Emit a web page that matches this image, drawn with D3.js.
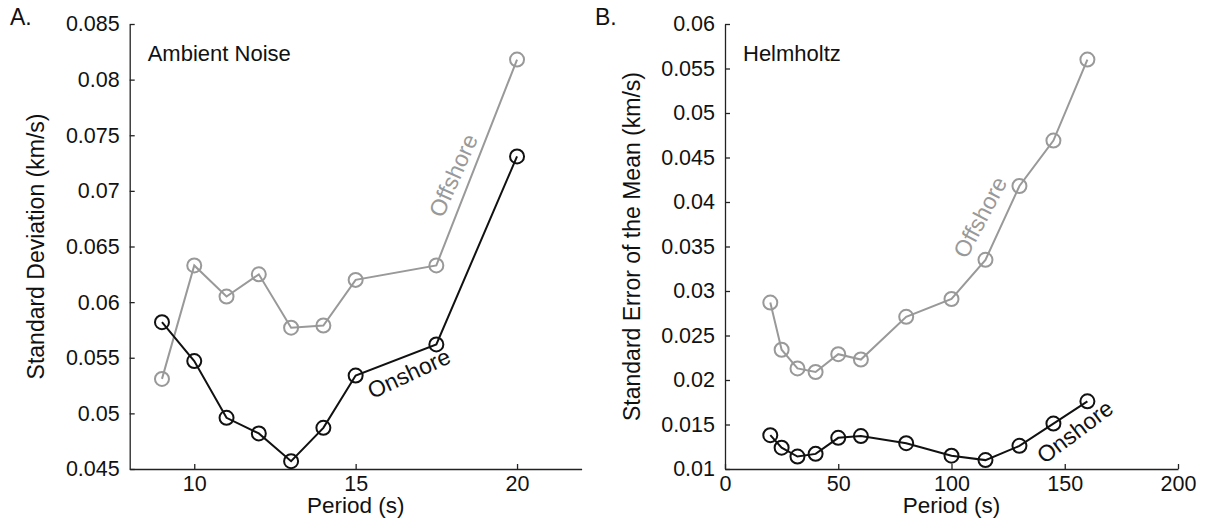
<!DOCTYPE html>
<html>
<head>
<meta charset="utf-8">
<script src="https://cdn.jsdelivr.net/npm/d3@7"></script>
<style>
  body { margin: 0; background: #fff; }
  svg text { font-family: "Liberation Sans", Arial, Helvetica, sans-serif; fill: #111; }
</style>
</head>
<body>
<div id="chart"></div>
<script>
var w = 1207;
var h = 523;

// Panel A: ambient noise, standard deviation
var periodsA = [9, 10, 11, 12, 13, 14, 15, 17.5, 20];
var offshoreA = [0.0531, 0.0633, 0.0605, 0.0625, 0.0577, 0.0579, 0.0620, 0.0633, 0.0818];
var onshoreA = [0.0582, 0.0547, 0.0496, 0.0482, 0.0457, 0.0487, 0.0534, 0.0562, 0.0731];
var xTicksA = [10, 15, 20];
var xLabelsA = ["10", "15", "20"];
var yTicksA = [0.045, 0.05, 0.055, 0.06, 0.065, 0.07, 0.075, 0.08, 0.085];
var yLabelsA = ["0.045", "0.05", "0.055", "0.06", "0.065", "0.07", "0.075", "0.08", "0.085"];

// Panel B: Helmholtz, standard error of the mean
var periodsB = [20, 25, 32, 40, 50, 60, 80, 100, 115, 130, 145, 160];
var offshoreB = [0.0287, 0.0234, 0.0213, 0.0209, 0.0229, 0.0223, 0.0271, 0.0291, 0.0335, 0.0418, 0.0469, 0.0560];
var onshoreB = [0.0138, 0.0124, 0.0114, 0.0117, 0.0135, 0.0137, 0.0129, 0.0115, 0.0110, 0.0126, 0.0151, 0.0176];
var xTicksB = [0, 50, 100, 150, 200];
var xLabelsB = ["0", "50", "100", "150", "200"];
var yTicksB = [0.01, 0.015, 0.02, 0.025, 0.03, 0.035, 0.04, 0.045, 0.05, 0.055, 0.06];
var yLabelsB = ["0.01", "0.015", "0.02", "0.025", "0.03", "0.035", "0.04", "0.045", "0.05", "0.055", "0.06"];

var grey = "#999999";
var black = "#111111";

var svg = d3.select("#chart")
  .append("svg")
  .attr("width", w)
  .attr("height", h);

function drawPanel(p) {
  var x = d3.scaleLinear().domain(p.xDomain).range([p.left, p.right]);
  var y = d3.scaleLinear().domain(p.yDomain).range([469, 24]);

  var g = svg.append("g");

  // axes, MATLAB style ticks pointing inwards
  g.append("g")
    .attr("transform", "translate(0,469)")
    .call(d3.axisBottom(x)
      .tickValues(p.xTicks)
      .tickFormat(function(d, i) { return p.xLabels[i]; })
      .tickSizeInner(-5)
      .tickSizeOuter(0)
      .tickPadding(7));

  g.append("g")
    .attr("transform", "translate(" + p.left + ",0)")
    .call(d3.axisLeft(y)
      .tickValues(p.yTicks)
      .tickFormat(function(d, i) { return p.yLabels[i]; })
      .tickSizeInner(-5)
      .tickSizeOuter(0)
      .tickPadding(10));

  g.selectAll(".domain, .tick line")
    .attr("stroke", "#222")
    .attr("stroke-width", 1.3);
  g.selectAll(".tick text")
    .style("font-size", "21.5px")
    .attr("fill", "#111");

  // axis titles
  g.append("text")
    .attr("x", (p.left + p.right) / 2)
    .attr("y", 513)
    .style("text-anchor", "middle")
    .style("font-size", "22.5px")
    .text("Period (s)");

  g.append("text")
    .attr("transform", "translate(" + p.titleX + "," + 246.5 + ") rotate(-90)")
    .style("text-anchor", "middle")
    .style("font-size", "23px")
    .text(p.yTitle);

  // panel letter and heading
  g.append("text")
    .attr("x", p.letterX)
    .attr("y", 25)
    .style("font-size", "23px")
    .text(p.letter);

  g.append("text")
    .attr("x", p.left + 18)
    .attr("y", 61)
    .style("font-size", "22px")
    .text(p.heading);

  var line = d3.line()
    .x(function(d) { return x(d[0]); })
    .y(function(d) { return y(d[1]); });

  var series = [
    { values: p.offshore, colour: grey, label: "Offshore", at: p.offLabel },
    { values: p.onshore, colour: black, label: "Onshore", at: p.onLabel }
  ];

  series.forEach(function(s) {
    var pts = p.periods.map(function(t, i) { return [t, s.values[i]]; });

    g.append("path")
      .datum(pts)
      .attr("d", line)
      .attr("fill", "none")
      .attr("stroke", s.colour)
      .attr("stroke-width", 2);

    g.selectAll(null)
      .data(pts)
      .enter()
      .append("circle")
      .attr("cx", function(d) { return x(d[0]); })
      .attr("cy", function(d) { return y(d[1]); })
      .attr("r", 7)
      .attr("fill", "none")
      .attr("stroke", s.colour)
      .attr("stroke-width", 2);

    g.append("text")
      .attr("transform", "translate(" + x(s.at[0]) + "," + y(s.at[1]) + ") rotate(" + s.at[2] + ")")
      .attr("dy", "0.35em")
      .style("text-anchor", "middle")
      .style("font-size", "23px")
      .style("fill", s.colour)
      .text(s.label);
  });
}

drawPanel({
  left: 129.7, right: 581.6,
  xDomain: [8, 22], yDomain: [0.045, 0.085],
  xTicks: xTicksA, xLabels: xLabelsA,
  yTicks: yTicksA, yLabels: yLabelsA,
  periods: periodsA, offshore: offshoreA, onshore: onshoreA,
  yTitle: "Standard Deviation (km/s)", titleX: 44,
  letter: "A.", letterX: 10,
  heading: "Ambient Noise",
  offLabel: [18.02, 0.0714, -66],
  onLabel: [16.65, 0.0536, -25]
});

drawPanel({
  left: 725, right: 1178,
  xDomain: [0, 200], yDomain: [0.01, 0.06],
  xTicks: xTicksB, xLabels: xLabelsB,
  yTicks: yTicksB, yLabels: yLabelsB,
  periods: periodsB, offshore: offshoreB, onshore: onshoreB,
  yTitle: "Standard Error of the Mean (km/s)", titleX: 640,
  letter: "B.", letterX: 595,
  heading: "Helmholtz",
  offLabel: [112.6, 0.0383, -62],
  onLabel: [154.5, 0.0142, -37]
});
</script>
</body>
</html>
